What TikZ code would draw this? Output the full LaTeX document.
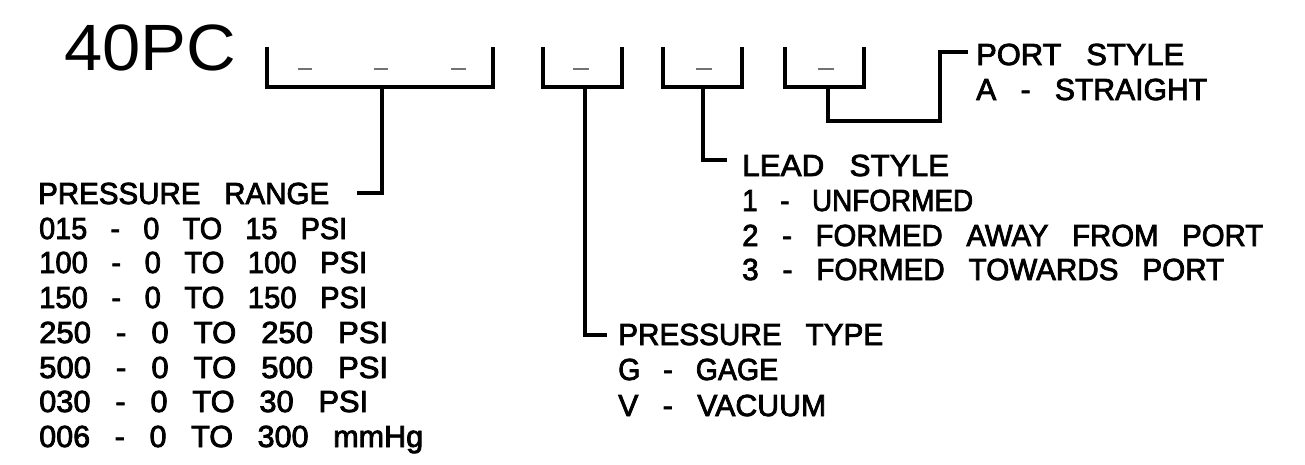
\documentclass[tikz,border=0pt]{standalone}
\usepackage{fontspec}
\usepackage{graphicx}
\setmainfont[WordSpace=2.4]{Liberation Sans}
\newfontfamily\lblfont[WordSpace=2.9,FakeBold=2.6]{Liberation Sans}
\newsavebox\fitbox
\newcommand\fitw[2]{\sbox\fitbox{#2}\pgfmathsetmacro\fitfac{#1/\the\wd\fitbox}\scalebox{\fitfac}[1]{\usebox\fitbox}}
\tikzset{
  lbl/.style={anchor=base west, inner sep=0pt, font=\lblfont\fontsize{30.5}{30.5}\selectfont},
  big/.style={anchor=base west, inner sep=0pt, font=\fontsize{65.5}{65.5}\selectfont},
  brk/.style={line width=3.3pt, line join=miter, line cap=butt},
  lead/.style={line width=3.3pt, line join=miter, line cap=square},
  blank/.style={line width=1.5pt, draw=black!55}
}
\begin{document}
\begin{tikzpicture}[x=1pt,y=-1pt]
\useasboundingbox[fill=white] (0,0) rectangle (1305,464);

% title
\node[big] (title) at (64,70) {\fitw{172}{40PC}};

% brackets
\draw[brk] (267,47) -- (267,87) -- (493,87) -- (493,47);
\draw[brk] (543,47) -- (543,87) -- (622,87) -- (622,47);
\draw[brk] (663,47) -- (663,87) -- (742,87) -- (742,47);
\draw[brk] (785,47) -- (785,87) -- (864,87) -- (864,47);

% blanks
\foreach \a/\b in {298/312,374/388,451/466,573/589,696/712,818/834}
  \draw[blank] (\a,69) -- (\b,69);

% bracket stems
\coordinate (b1) at (382,87);
\coordinate (b2) at (585,87);
\coordinate (b3) at (703,87);
\coordinate (b4) at (828,87);
\coordinate (t1) at (357,193);
\coordinate (t2) at (607,335);
\coordinate (t3) at (727,160);
\coordinate (k4) at (940,121);
\coordinate (t4) at (968,52);

\draw[lead] (b1) |- (t1);
\draw[lead] (b2) |- (t2);
\draw[lead] (b3) |- (t3);
\draw[lead] (b4) |- (k4) |- (t4);

% port style
\node[lbl] (ps) at (976,65) {\fitw{208}{PORT STYLE}};
\node[lbl] (ps1) at (976,100) {\fitw{231}{A - STRAIGHT}};

% lead style
\node[lbl] (ls) at (742,176) {\fitw{207}{LEAD STYLE}};
\node[lbl] (ls1) at (742,211) {\fitw{231}{1 - UNFORMED}};
\node[lbl] (ls2) at (742,246) {\fitw{521}{2 - FORMED AWAY FROM PORT}};
\node[lbl] (ls3) at (742,280) {\fitw{482}{3 - FORMED TOWARDS PORT}};

% pressure type
\node[lbl] (pt) at (618,345) {\fitw{265}{PRESSURE TYPE}};
\node[lbl] (pt1) at (618,380) {\fitw{160}{G - GAGE}};
\node[lbl] (pt2) at (618,416) {\fitw{208}{V - VACUUM}};

% pressure range
\node[lbl] (pr) at (38,204) {\fitw{291}{PRESSURE RANGE}};
\node[lbl] (pr1) at (39,239) {\fitw{308}{015 - 0 TO 15 PSI}};
\node[lbl] (pr2) at (39,273) {\fitw{328}{100 - 0 TO 100 PSI}};
\node[lbl] (pr3) at (39,308) {\fitw{328}{150 - 0 TO 150 PSI}};
\node[lbl] (pr4) at (39,343) {\fitw{349}{250 - 0 TO 250 PSI}};
\node[lbl] (pr5) at (39,378) {\fitw{349}{500 - 0 TO 500 PSI}};
\node[lbl] (pr6) at (39,412) {\fitw{329}{030 - 0 TO 30 PSI}};
\node[lbl] (pr7) at (39,447) {\fitw{384}{006 - 0 TO 300 mmHg}};
\end{tikzpicture}
\end{document}
